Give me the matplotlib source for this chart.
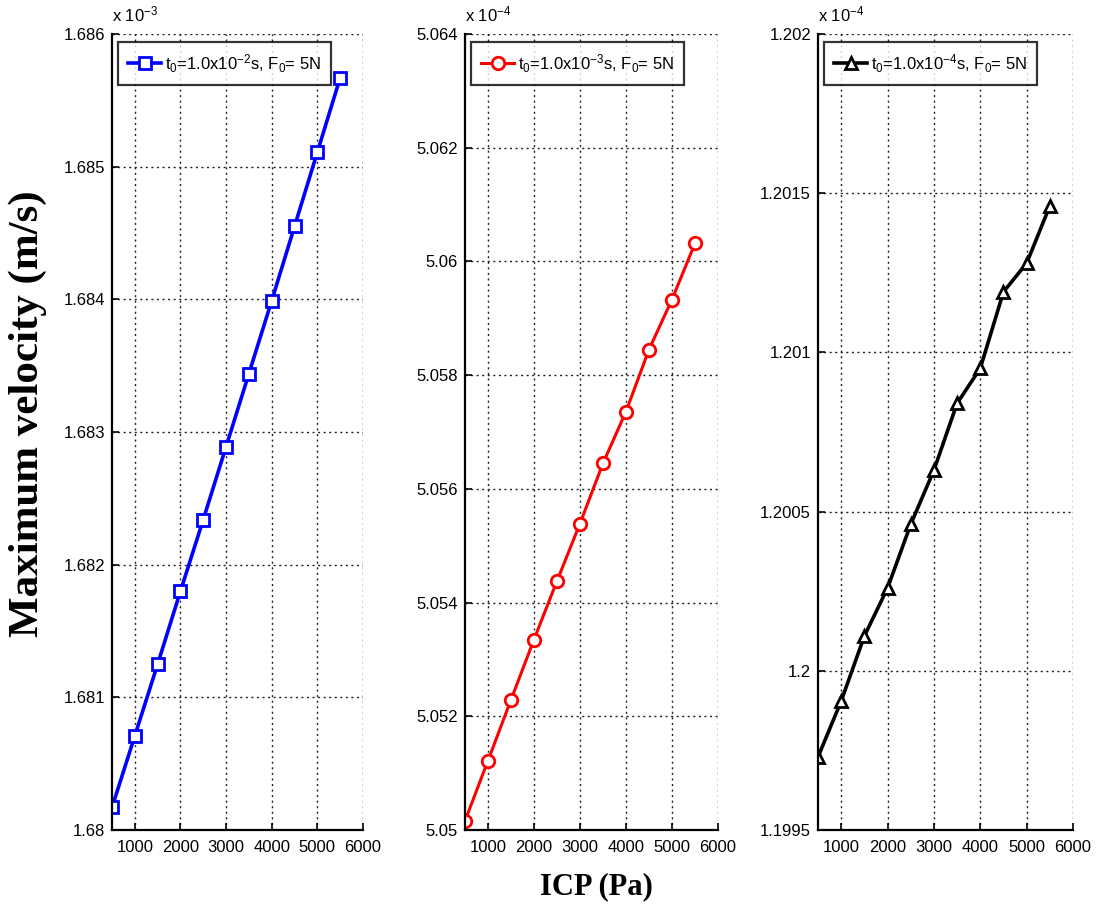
import matplotlib
matplotlib.use("Agg")
import matplotlib.pyplot as plt
from matplotlib.ticker import FuncFormatter, MultipleLocator

plt.rcParams['font.family'] = ['Liberation Sans', 'DejaVu Sans']
plt.rcParams['mathtext.fontset'] = 'custom'
plt.rcParams['mathtext.rm'] = 'Liberation Sans'
plt.rcParams['mathtext.default'] = 'regular'

# ICP values (Pa)
icp = [500, 1000, 1500, 2000, 2500, 3000, 3500, 4000, 4500, 5000, 5500]

# Maximum velocity (mantissas; panel multipliers shown above each axis)
vel_t0_1e2 = [1.68017, 1.68071, 1.68125, 1.68180, 1.68234, 1.68289,
              1.68344, 1.68399, 1.68455, 1.68511, 1.68567]   # x 1e-3
vel_t0_1e3 = [5.05016, 5.05122, 5.05229, 5.05335, 5.05438, 5.05539,
              5.05645, 5.05736, 5.05845, 5.05933, 5.06032]   # x 1e-4
vel_t0_1e4 = [1.199729, 1.199905, 1.200109, 1.200260, 1.200460, 1.200630,
              1.200840, 1.200950, 1.201190, 1.201280, 1.201460]  # x 1e-4

labels = [r't$_0$=1.0x10$^{-2}$s, F$_0$= 5N',
          r't$_0$=1.0x10$^{-3}$s, F$_0$= 5N',
          r't$_0$=1.0x10$^{-4}$s, F$_0$= 5N']
multipliers = [r'x 10$^{-3}$', r'x 10$^{-4}$', r'x 10$^{-4}$']
ylims = [(1.680, 1.686), (5.050, 5.064), (1.1995, 1.2020)]
ysteps = [0.001, 0.002, 0.0005]
xticks = [1000, 2000, 3000, 4000, 5000, 6000]

series = [vel_t0_1e2, vel_t0_1e3, vel_t0_1e4]
colors = ['#0000ff', '#ff0000', '#000000']
markers = ['s', 'o', '^']
lws = [2.6, 2.2, 2.6]
msizes = [8, 9, 9]

fig = plt.figure(figsize=(10.98, 9.07), dpi=100)
W, H = 1098.0, 907.0
lefts = [112, 465, 818]
widths = [251, 253, 255]
top_px, bot_px = 34, 830

def fmt(v, pos):
    return ('%.4f' % v).rstrip('0').rstrip('.')

for i in range(3):
    ax = fig.add_axes([lefts[i] / W, 1 - bot_px / H, widths[i] / W, (bot_px - top_px) / H])
    ax.plot(icp, series[i], color=colors[i], lw=lws[i], marker=markers[i],
            markersize=msizes[i], markerfacecolor='white', markeredgecolor=colors[i],
            markeredgewidth=2.0, label=labels[i])
    ax.set_xlim(500, 6000)
    ax.set_xticks(xticks)
    ax.yaxis.set_major_locator(MultipleLocator(ysteps[i]))
    ax.yaxis.set_major_formatter(FuncFormatter(fmt))
    ax.set_ylim(*ylims[i])
    ax.grid(True, linestyle=(0, (1.5, 2.5)), color='#222222', linewidth=1.0)
    ax.spines['top'].set_visible(False)
    ax.spines['right'].set_visible(False)
    for sp in ['left', 'bottom']:
        ax.spines[sp].set_linewidth(1.6)
    ax.tick_params(direction='in', length=5, width=1.2, labelsize=12, colors='black')
    ax.tick_params(axis='x', pad=7)
    ax.tick_params(axis='y', pad=5)
    leg = ax.legend(loc='upper left', bbox_to_anchor=(6 / widths[i], 1 - 8 / (bot_px - top_px)),
                    borderaxespad=0, fontsize=12, frameon=True, fancybox=False,
                    handlelength=2.0, handletextpad=0.2, borderpad=0.6)
    leg.get_frame().set_edgecolor('black')
    leg.get_frame().set_linewidth(1.6)
    ax.text(0.0, 1.012, multipliers[i], transform=ax.transAxes, ha='left', va='bottom',
            fontsize=12)

fig.text(596 / W, 1 - 887 / H, 'ICP (Pa)', ha='center', va='center',
         family='Liberation Serif', fontweight='bold', fontsize=22)
fig.text(28 / W, 1 - 414 / H, 'Maximum velocity (m/s)', ha='center', va='center',
         rotation=90, family='Liberation Serif', fontweight='bold', fontsize=31)

fig.savefig('out.png', dpi=100)
